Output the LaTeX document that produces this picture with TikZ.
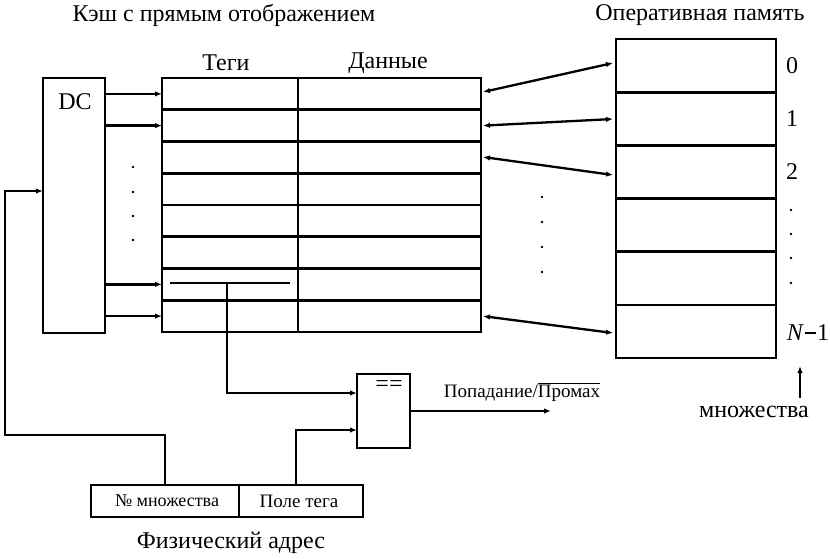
\documentclass[tikz,border=0pt]{standalone}
\usepackage{fontspec}
\setmainfont{Liberation Serif}
\usetikzlibrary{arrows.meta}
\begin{document}
\begin{tikzpicture}[x=1pt,y=-1pt,
  box/.style={draw,line width=2.7pt,inner sep=0pt,outer sep=0pt},
  arr/.style={line width=2.6pt,-{Latex[length=7pt,width=5.5pt]}},
  darr/.style={line width=2.3pt,{Latex[length=7pt,width=5.5pt]}-{Latex[length=7pt,width=5.5pt]}},
  wire/.style={line width=2.7pt},
  big/.style={font=\fontsize{24}{28}\selectfont,inner sep=0pt},
  small/.style={font=\fontsize{19}{22}\selectfont,inner sep=0pt},
  dot/.style={circle,fill,inner sep=0pt,minimum size=2.6pt}]
\useasboundingbox (0,0) rectangle (830,558);

% titles
\node[big] (tcache) at (224,15) {Кэш с прямым отображением};
\node[big] (tmem) at (700,15) {Оперативная память};
\node[big] (ltag) at (226,63) {Теги};
\node[big] (ldata) at (388,63) {Данные};

% DC
\node[box,minimum width=62pt,minimum height=255pt] (dc) at (74,205.5) {};
\node[big] (dclabel) at (75,102) {DC};

% cache table
\foreach \i in {1,...,8}{
  \pgfmathsetmacro{\yc}{78+(\i-0.5)*31.75}
  \node[box,minimum width=136pt,minimum height=31.75pt] (t\i) at (230,\yc) {};
  \node[box,minimum width=183pt,minimum height=31.75pt] (d\i) at (389.5,\yc) {};
}

% DC -> rows
\foreach \i in {1,2,7,8}{
  \draw[arr] (dc.east |- t\i.west) -- (t\i.west);
}
\foreach \y [count=\k] in {167,192,216,240}{
  \node[dot] (ldot\k) at (133,\y) {};
}

% tag field in row 7
\coordinate (tagl) at (170,283);
\coordinate (tagr) at (290,283);
\coordinate (tagm) at (227,283);
\draw[wire] (tagl) -- (tagr);

% memory
\foreach \i in {1,...,6}{
  \pgfmathsetmacro{\yc}{39+(\i-0.5)*53.17}
  \node[box,minimum width=160pt,minimum height=53.17pt] (m\i) at (696,\yc) {};
}
\node[big] (n0) at (792,66) {0};
\node[big] (n1) at (792,119) {1};
\node[big] (n2) at (792,172) {2};
\foreach \y [count=\k] in {210,234,258,283}{
  \node[dot] (rdot\k) at (791,\y) {};
}
\node[big] (nN) at (808,333) {\textit{N}\kern1pt\rule[6.5pt]{11pt}{2.8pt}\kern1pt1};
\coordinate (mset) at (800,398);
\node[big] (lmset) at (754,412) {множества};
\draw[arr] (mset) -- (800,366);

% cache <-> memory
\draw[darr] ([xshift=2pt]d1.east |- 0,92) -- ([xshift=-3pt]m1.west |- 0,63);
\draw[darr] ([xshift=2pt]d2.east) -- ([xshift=-3pt]m2.west |- 0,119);
\draw[darr] ([xshift=2pt]d3.east |- 0,157) -- ([xshift=-3pt]m3.west |- 0,175);
\draw[darr] ([xshift=2pt]d8.east) -- ([xshift=-3pt]m6.west |- 0,333);
\foreach \y [count=\k] in {197,222,247,272}{
  \node[dot] (mdot\k) at (542,\y) {};
}

% comparator
\node[box,minimum width=53pt,minimum height=74pt] (cmp) at (383.5,411) {};
\node[big] (eq) at (389,386) {==};
\coordinate (cin1) at (357,393);
\coordinate (cin2) at (357,430);
\draw[arr] (tagm) |- (cin1);
\coordinate (hit) at (551,411);
\draw[arr] (cmp.east) -- (hit);
\node[small] (lhit) at (522,392) {Попадание/$\overline{\mbox{Промах}}$};

% address
\node[box,minimum width=148pt,minimum height=32pt] (a1) at (165,501) {};
\node[box,minimum width=124pt,minimum height=32pt] (a2) at (301,501) {};
\node[small,font=\fontsize{18}{22}\selectfont] (la1) at (167,501) {№ множества};
\node[small] (la2) at (299,501) {Поле тега};
\node[big] (laddr) at (231,543) {Физический адрес};
\coordinate (ta) at (296,485);
\draw[arr] (ta) |- (cin2);
\coordinate (lw) at (5,435);
\coordinate (dcin) at (43,191);
\draw[arr] (a1.north) |- (lw) |- (dcin);
\end{tikzpicture}
\end{document}
